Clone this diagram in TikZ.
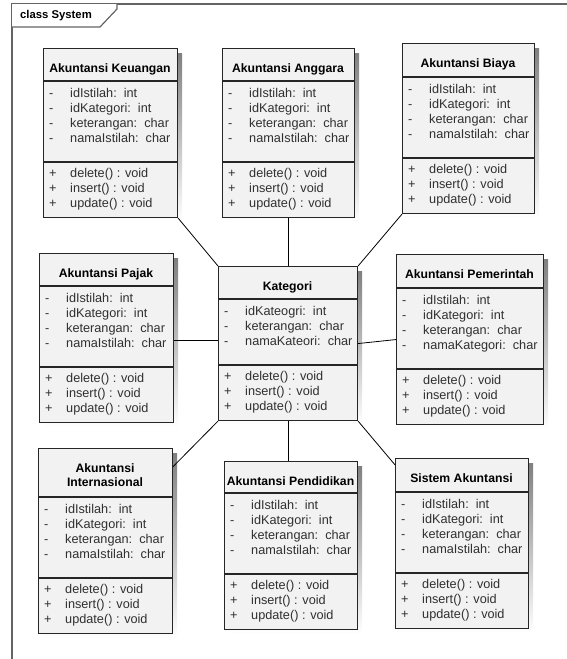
\documentclass[tikz,border=0pt]{standalone}
\usepackage{fontspec}
\setmainfont{Liberation Sans}
\usetikzlibrary{calc}

\definecolor{boxfill}{HTML}{F2F2F2}
\definecolor{boxline}{HTML}{262626}
\definecolor{shade}{HTML}{C8C8C8}
\definecolor{framegray}{HTML}{646464}
\definecolor{membergray}{HTML}{303030}

\tikzset{
  classbox/.style={rectangle, draw=boxline, line width=1.1pt, fill=boxfill,
    inner sep=0pt, anchor=north west},
  divider/.style={draw=boxline, line width=1.1pt},
  titletext/.style={font=\fontsize{12.2}{14}\selectfont\bfseries, inner sep=0pt, anchor=base},
  membertext/.style={font=\fontsize{12.7}{15}\selectfont, text=membergray,
    inner sep=0pt, anchor=base west},
  link/.style={draw=black, line width=0.8pt},
  framerule/.style={draw=framegray, line width=1.5pt},
}

% One UML class: #1 name, #2 left, #3 top, #4 width, #5 header height,
% #6 title, #7 number of attributes, #8 attribute list
\newcommand\umlclass[8]{%
  \pgfmathsetmacro\clsH{#5+15*#7+76}%
  \pgfmathsetmacro\clsAttr{#3+#5}%
  \pgfmathsetmacro\clsOps{#3+#5+15*#7+21}%
  \fill[shade] (#2+5,#3+5) rectangle ++(#4,\clsH);
  \node[classbox, minimum width=#4pt, minimum height=\clsH pt] (#1) at (#2,#3) {};
  \draw[divider] (#2,\clsAttr) -- ++(#4,0);
  \draw[divider] (#2,\clsOps) -- ++(#4,0);
  \node[titletext] (#1-title) at (#2+#4/2,#3+24.5)
    {\begin{tabular}[t]{@{}c@{}}#6\end{tabular}};
  \foreach \m [count=\idx] in {#8} {
    \node[membertext] (#1-v\idx) at (#2+6,\clsAttr+16.5+15*\idx-15) {-};
    \node[membertext] (#1-a\idx) at (#2+27,\clsAttr+16.5+15*\idx-15) {\m};
  }
  \foreach \m [count=\idx] in {delete() : void, insert() : void, update() : void} {
    \node[membertext] (#1-p\idx) at (#2+6,\clsOps+15.5+15*\idx-15) {+};
    \node[membertext] (#1-o\idx) at (#2+27,\clsOps+15.5+15*\idx-15) {\m};
  }
}

\begin{document}
\begin{tikzpicture}[x=1pt, y=-1pt]
  \useasboundingbox (0,0) rectangle (567,659);

  % diagram frame with its name tab
  \draw[framerule] (12,659) -- (12,4) -- (567,4);
  \fill[white] (12,4) -- (117,4) -- (117,9) -- (100,27) -- (12,27) -- cycle;
  \draw[draw=framegray, line width=1.2pt] (12,27) -- (100,27) -- (117,9) -- (117,4);
  \node[font=\fontsize{11.3}{13}\selectfont\bfseries, inner sep=0pt, anchor=base west]
    (frametitle) at (20,18.5) {class System};

  % classes
  \umlclass{keu}{43}{48}{134}{33}{Akuntansi Keuangan}{4}
    {idIstilah:\ \ int, idKategori:\ \ int, keterangan:\ \ char, namaIstilah:\ \ char}
  \umlclass{ang}{222}{48}{132}{33}{Akuntansi Anggara}{4}
    {idIstilah:\ \ int, idKategori:\ \ int, keterangan:\ \ char, namaIstilah:\ \ char}
  \umlclass{bia}{402}{43}{132}{34}{Akuntansi Biaya}{4}
    {idIstilah:\ \ int, idKategori:\ \ int, keterangan:\ \ char, namaIstilah:\ \ char}
  \umlclass{paj}{39}{253}{134}{33}{Akuntansi Pajak}{4}
    {idIstilah:\ \ int, idKategori:\ \ int, keterangan:\ \ char, namaIstilah:\ \ char}
  \umlclass{kat}{218}{266}{139}{33}{Kategori}{3}
    {idKateogri:\ \ int, keterangan:\ \ char, namaKateori:\ \ char}
  \umlclass{pem}{396}{254}{147}{34}{Akuntansi Pemerintah}{4}
    {idIstilah:\ \ int, idKategori:\ \ int, keterangan:\ \ char, namaKategori:\ \ char}
  \umlclass{int}{38}{448}{134}{49}{Akuntansi\\Internasional}{4}
    {idIstilah:\ \ int, idKategori:\ \ int, keterangan:\ \ char, namaIstilah:\ \ char}
  \umlclass{pen}{224}{461}{133}{32}{Akuntansi Pendidikan}{4}
    {idIstilah:\ \ int, idKategori:\ \ int, keterangan:\ \ char, namaIstilah:\ \ char}
  \umlclass{sis}{395}{458}{133}{34}{Sistem Akuntansi}{4}
    {idIstilah:\ \ int, idKategori:\ \ int, keterangan:\ \ char, namaIstilah:\ \ char}

  % associations to Kategori
  \coordinate (pajmid) at ($(paj.east)!0.5!(kat.west)$);
  \draw[link] (keu.south east) -- (kat.north west);
  \draw[link] (ang.south) -- (ang.south |- kat.north);
  \draw[link] (bia.south west) -- (kat.north east);
  \draw[link] (paj.east |- pajmid) -- (kat.west |- pajmid);
  \draw[link] (kat.east) -- (pem.west);
  \draw[link] ($(int.north east)!0.1!(int.south east)$) -- (kat.south west);
  \draw[link] (kat.south) -- (kat.south |- pen.north);
  \draw[link] (kat.south east) -- ($(sis.north west)!0.04!(sis.south west)$);
\end{tikzpicture}
\end{document}
